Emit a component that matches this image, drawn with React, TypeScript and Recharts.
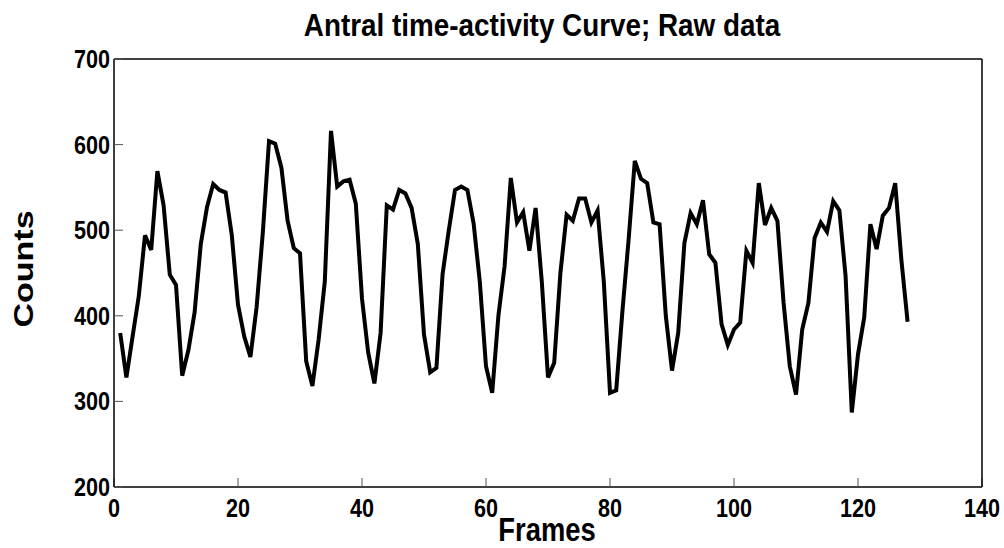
import React from 'react';
import { LineChart, Line, XAxis, YAxis } from 'recharts';

// antral ROI counts per frame (raw, no smoothing)
const counts = [
  380, 328, 376, 423, 494, 477, 569, 529, 448, 436,
  330, 360, 404, 484, 527, 554, 547, 544, 494, 413,
  376, 352, 410, 497, 604, 601, 573, 511, 479, 473,
  347, 318, 372, 440, 616, 551, 557, 559, 531, 420,
  357, 321, 380, 529, 524, 547, 543, 526, 484, 378,
  334, 339, 449, 500, 547, 551, 547, 508, 440, 341,
  310, 400, 458, 561, 509, 521, 476, 526, 440, 328,
  345, 450, 518, 511, 537, 537, 509, 523, 440, 310,
  313, 405, 489, 581, 560, 555, 509, 507, 400, 336,
  380, 485, 520, 507, 535, 472, 462, 390, 366, 384,
  392, 476, 462, 555, 506, 526, 511, 415, 341, 308,
  384, 415, 491, 509, 498, 534, 523, 446, 287, 355,
  398, 507, 478, 517, 526, 555, 465, 393,
];
const frames = counts.map((_, i) => i + 1);

const xTicks = [0, 20, 40, 60, 80, 100, 120, 140];
const yTicks = [200, 300, 400, 500, 600, 700];

const data = frames.map((f, i) => ({ frame: f, counts: counts[i] }));

const FONT = '"Liberation Sans", Arial, Helvetica, sans-serif';

const YTick = ({ x, y, payload }: any) => (
  <text
    x={0}
    y={0}
    transform={`translate(${x - 4},${y + 9}) scale(0.83,1)`}
    textAnchor="end"
    fontFamily={FONT}
    fontWeight="bold"
    fontSize={26}
    fill="#000"
  >
    {payload.value}
  </text>
);

const XTick = ({ x, y, payload }: any) => (
  <text
    x={0}
    y={0}
    transform={`translate(${x},${y + 30}) scale(0.83,1)`}
    textAnchor="middle"
    fontFamily={FONT}
    fontWeight="bold"
    fontSize={26}
    fill="#000"
  >
    {payload.value}
  </text>
);

const axisLine = { stroke: '#000', strokeWidth: 1.5 };
const tickLine = { stroke: '#555', strokeWidth: 1 };

export default function App() {
  return (
    <div style={{ position: 'absolute', left: 0, top: 0, width: 1004, height: 548, background: '#fff' }}>
      <LineChart width={1004} height={548} data={data} margin={{ top: 58, right: 21, bottom: 0, left: 0 }}>
        <XAxis
          dataKey="frame"
          type="number"
          domain={[0, 140]}
          ticks={xTicks}
          height={61}
          axisLine={axisLine}
          tickLine={tickLine}
          tickSize={-9}
          tickMargin={9}
          tick={<XTick />}
          interval={0}
        />
        {/* mirrored axes close the box and carry inward ticks */}
        <XAxis
          xAxisId="top"
          orientation="top"
          dataKey="frame"
          type="number"
          domain={[0, 140]}
          ticks={xTicks}
          height={1}
          axisLine={axisLine}
          tickLine={tickLine}
          tickSize={-9}
          tick={false}
          interval={0}
        />
        <YAxis
          type="number"
          domain={[200, 700]}
          ticks={yTicks}
          width={114}
          axisLine={axisLine}
          tickLine={tickLine}
          tickSize={-9}
          tickMargin={9}
          tick={<YTick />}
          interval={0}
        />
        <YAxis
          yAxisId="right"
          orientation="right"
          type="number"
          domain={[200, 700]}
          ticks={yTicks}
          width={1}
          axisLine={axisLine}
          tickLine={tickLine}
          tickSize={-9}
          tick={false}
          interval={0}
        />
        <Line
          dataKey="counts"
          stroke="#000"
          strokeWidth={4}
          dot={false}
          strokeLinejoin="miter"
          isAnimationActive={false}
        />
        <Line
          xAxisId="top"
          yAxisId="right"
          dataKey="counts"
          stroke="none"
          dot={false}
          legendType="none"
          isAnimationActive={false}
        />
      </LineChart>
      <svg
        width={1004}
        height={548}
        style={{ position: 'absolute', left: 0, top: 0, pointerEvents: 'none' }}
      >
        <text
          transform="translate(542,36) scale(0.87,1)"
          textAnchor="middle"
          fontFamily={FONT}
          fontWeight="bold"
          fontSize={32}
          fill="#000"
        >
          Antral time-activity Curve; Raw data
        </text>
        <text
          transform="translate(547,541) scale(0.83,1)"
          textAnchor="middle"
          fontFamily={FONT}
          fontWeight="bold"
          fontSize={33}
          fill="#000"
        >
          Frames
        </text>
        <text
          transform="translate(33,269) scale(0.83,1) rotate(-90)"
          textAnchor="middle"
          fontFamily={FONT}
          fontWeight="bold"
          fontSize={34}
          fill="#000"
        >
          Counts
        </text>
      </svg>
    </div>
  );
}
